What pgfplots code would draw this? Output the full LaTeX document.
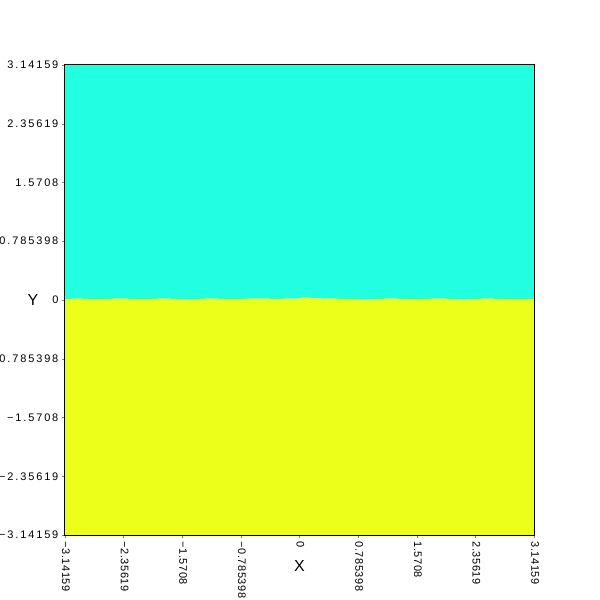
\documentclass[border=0pt]{standalone}
\usepackage{fontspec}
\setmainfont{Liberation Sans}
\usepackage{pgfplots}
\pgfplotsset{compat=1.18}
\definecolor{cyanfill}{RGB}{34,255,224}
\definecolor{yellowfill}{RGB}{235,255,26}
\begin{document}
\begin{tikzpicture}
\begin{axis}[
  scale only axis,
  width=470pt, height=471pt,
  xmin=-3.14159, xmax=3.14159,
  ymin=-3.14159, ymax=3.14159,
  axis on top,
  tick align=outside,
  major tick length=3pt,
  xtick pos=bottom, ytick pos=left,
  xtick={-3.14159,-2.35619,-1.5708,-0.785398,0,0.785398,1.5708,2.35619,3.14159},
  ytick={-3.14159,-2.35619,-1.5708,-0.785398,0,0.785398,1.5708,2.35619,3.14159},
  xticklabels={−3.14159,−2.35619,−1.5708,−0.785398,0,0.785398,1.5708,2.35619,3.14159},
  yticklabels={−3.14159,−2.35619,−1.5708,−0.785398,0,0.785398,1.5708,2.35619,3.14159},
  xticklabel style={font=\fontsize{11}{13}\selectfont\addfontfeature{LetterSpace=5}, rotate=-90, anchor=west, yshift=1pt},
  yticklabel style={font=\fontsize{11}{13}\selectfont\addfontfeature{LetterSpace=17}, anchor=east, xshift=0pt},
  every axis x label/.style={at={(axis description cs:0.5,-0.066)}, anchor=center},
  every axis y label/.style={at={(axis description cs:-0.068,0.5)}, anchor=center},
  xlabel={\fontsize{16}{18}\selectfont X},
  ylabel={\fontsize{16}{18}\selectfont Y},
  axis line style={line width=0.8pt},
]
\addplot[draw=none, fill=cyanfill] coordinates {
(-3.14159,3.14159) (3.14159,3.14159) (3.14159,0.01) (2.8,0.01) (2.5,0.02) (2.2,0.005) (1.9,0.02) (1.5,0.01) (1.2,0.02) (0.9,0.005) (0.6,0.015) (0.3,0.02) (0.05,0.035) (0,0.02) (-0.3,0.015) (-0.6,0.02) (-0.9,0.01) (-1.2,0.02) (-1.5,0.005) (-1.8,0.02) (-2.1,0.01) (-2.4,0.02) (-2.7,0.01) (-3.0,0.02) (-3.14159,0.01)
} -- cycle;
\addplot[draw=none, fill=yellowfill] coordinates {
(-3.14159,-3.14159) (3.14159,-3.14159) (3.14159,0.01) (2.8,0.01) (2.5,0.02) (2.2,0.005) (1.9,0.02) (1.5,0.01) (1.2,0.02) (0.9,0.005) (0.6,0.015) (0.3,0.02) (0.05,0.035) (0,0.02) (-0.3,0.015) (-0.6,0.02) (-0.9,0.01) (-1.2,0.02) (-1.5,0.005) (-1.8,0.02) (-2.1,0.01) (-2.4,0.02) (-2.7,0.01) (-3.0,0.02) (-3.14159,0.01)
} -- cycle;
\end{axis}
\pgfresetboundingbox
\path[use as bounding box] (-65pt,-65pt) rectangle (535pt,536pt);
\end{tikzpicture}
\end{document}
